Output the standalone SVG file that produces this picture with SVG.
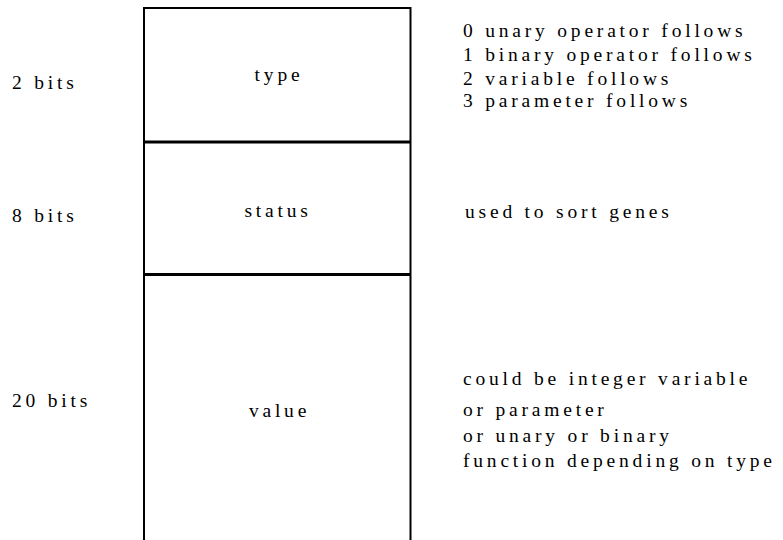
<svg xmlns="http://www.w3.org/2000/svg" width="783" height="540" viewBox="0 0 783 540">
<style>
.c{text-anchor:middle}
.box{fill:none;stroke:#000;stroke-width:2}
.sep{stroke:#000;stroke-width:3}
</style>
<rect width="783" height="540" fill="#fff"/>
<g id="record">
<path class="box" d="M144,540 V8 H410.5 V540"/>
</g>
<g id="labels" font-family="Liberation Serif, serif" font-size="19.5" letter-spacing="3.8" fill="#000">
<g id="field-type">
<text class="c" x="279" y="81">type</text>
<text x="12" y="89">2 bits</text>
<text x="463" y="37">0 unary operator follows</text>
<text x="463" y="61">1 binary operator follows</text>
<text x="463" y="85">2 variable follows</text>
<text x="463" y="106.5">3 parameter follows</text>
</g>
<g id="field-status">
<line class="sep" x1="144" y1="142" x2="410.5" y2="142"/>
<text class="c" x="278" y="217">status</text>
<text x="12" y="222">8 bits</text>
<text x="465" y="218">used to sort genes</text>
</g>
<g id="field-value">
<line class="sep" x1="144" y1="274.5" x2="410.5" y2="274.5"/>
<text class="c" x="279.5" y="417">value</text>
<text x="12" y="407">20 bits</text>
<text x="463" y="385">could be integer variable</text>
<text x="463" y="416">or parameter</text>
<text x="463" y="441.5">or unary or binary</text>
<text x="463" y="466.5">function depending on type</text>
</g>
</g>
<g id="connectors"/>
</svg>
